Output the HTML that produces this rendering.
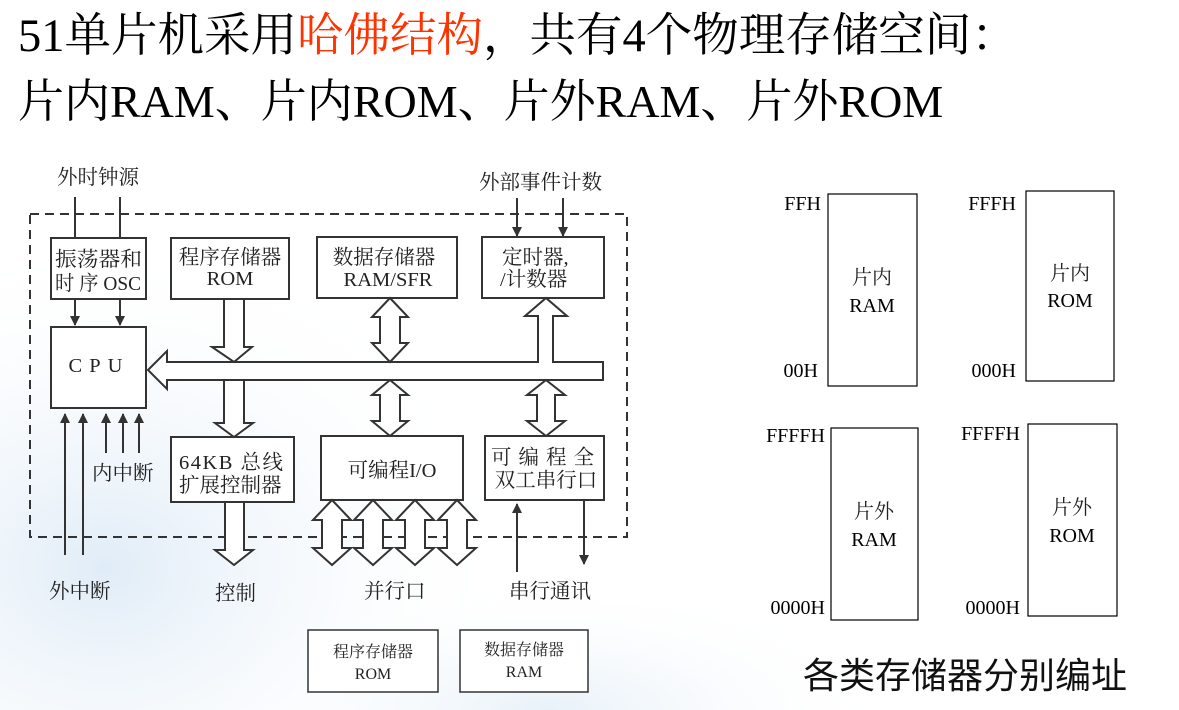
<!DOCTYPE html>
<html><head><meta charset="utf-8">
<style>
html,body{margin:0;padding:0;background:#fff;}
body{width:1179px;height:710px;overflow:hidden;position:relative;}
svg{position:absolute;left:0;top:0;}
.t{font-family:"Liberation Serif","Noto Serif CJK SC",serif;}
</style></head>
<body>
<svg width="1179" height="710" viewBox="0 0 1179 710" xmlns="http://www.w3.org/2000/svg">
<defs>
<radialGradient id="g1" cx="0.15" cy="0.75" r="0.6">
<stop offset="0" stop-color="#e0ecf7"/><stop offset="1" stop-color="#ffffff" stop-opacity="0"/>
</radialGradient>
<radialGradient id="g2" cx="0.5" cy="1" r="0.5">
<stop offset="0" stop-color="#e8f1f9"/><stop offset="1" stop-color="#ffffff" stop-opacity="0"/>
</radialGradient>
<marker id="ah" viewBox="0 0 10 10" refX="9" refY="5" markerWidth="5" markerHeight="5" orient="auto">
<path d="M0,0 L10,5 L0,10 z" fill="#333"/>
</marker>
</defs>
<rect x="0" y="140" width="700" height="570" fill="url(#g1)"/>
<rect x="200" y="450" width="700" height="260" fill="url(#g2)"/>

<text class="t" x="18" y="51" font-size="46.5" fill="#000">51单片机采用<tspan fill="#ff3300">哈佛结构</tspan>，共有4个物理存储空间：</text>
<text class="t" x="18" y="117" font-size="46" fill="#000">片内RAM、片内ROM、片外RAM、片外ROM</text>

<g stroke="#333" stroke-width="2" fill="none">
<rect x="30" y="214" width="597" height="323" stroke-dasharray="9 6"/>
<rect x="51" y="238" width="95" height="61" fill="#fff"/>
<rect x="171" y="238" width="118" height="61" fill="#fff"/>
<rect x="317" y="237" width="140" height="61" fill="#fff"/>
<rect x="482" y="237" width="122" height="61" fill="#fff"/>
<rect x="51" y="327" width="95" height="81" fill="#fff"/>
<rect x="171" y="437" width="123" height="65" fill="#fff"/>
<rect x="321" y="436" width="142" height="64" fill="#fff"/>
<rect x="485" y="436" width="119" height="64" fill="#fff"/>

<path d="M148,370 L167,351 L167,362 L538,362 L538,316 L525,316 L546,298 L567,316 L553,316 L553,362 L603,362 L603,380 L167,380 L167,389 Z" fill="#fff"/>
<path d="M224,299 L244,299 L244,347 L252,347 L234,362 L212,347 L224,347 Z" fill="#fff"/>
<path d="M224,380 L244,380 L244,423 L253,423 L234,437 L215,423 L224,423 Z" fill="#fff"/>
<path d="M225,502 L244,502 L244,550 L253,550 L234,565 L215,550 L225,550 Z" fill="#fff"/>
<path d="M390,298 L408,317 L400,317 L400,343 L408,343 L390,362 L372,343 L380,343 L380,317 L372,317 Z" fill="#fff"/>
<path d="M390,380 L408,395 L400,395 L400,421 L408,421 L390,436 L372,421 L380,421 L380,395 L372,395 Z" fill="#fff"/>
<path d="M546,380 L565,395 L555,395 L555,421 L565,421 L546,436 L527,421 L537,421 L537,395 L527,395 Z" fill="#fff"/>
<path d="M332,500 L351,520 L342,520 L342,548 L351,548 L332,565 L313,548 L322,548 L322,520 L313,520 Z" fill="#fff"/>
<path d="M373,500 L392,520 L383,520 L383,548 L392,548 L373,565 L354,548 L363,548 L363,520 L354,520 Z" fill="#fff"/>
<path d="M415,500 L434,520 L425,520 L425,548 L434,548 L415,565 L396,548 L405,548 L405,520 L396,520 Z" fill="#fff"/>
<path d="M457,500 L476,520 L467,520 L467,548 L476,548 L457,565 L438,548 L447,548 L447,520 L438,520 Z" fill="#fff"/>

<line x1="75" y1="197" x2="75" y2="238"/>
<line x1="120" y1="197" x2="120" y2="238"/>
<line x1="75" y1="299" x2="75" y2="325" marker-end="url(#ah)"/>
<line x1="120" y1="299" x2="120" y2="325" marker-end="url(#ah)"/>
<line x1="517" y1="198" x2="517" y2="236" marker-end="url(#ah)"/>
<line x1="563" y1="198" x2="563" y2="236" marker-end="url(#ah)"/>
<line x1="65" y1="555" x2="65" y2="414" marker-end="url(#ah)"/>
<line x1="83" y1="555" x2="83" y2="414" marker-end="url(#ah)"/>
<line x1="106" y1="453" x2="106" y2="414" marker-end="url(#ah)"/>
<line x1="123" y1="453" x2="123" y2="414" marker-end="url(#ah)"/>
<line x1="139" y1="453" x2="139" y2="414" marker-end="url(#ah)"/>
<line x1="517" y1="572" x2="517" y2="504" marker-end="url(#ah)"/>
<line x1="584" y1="500" x2="584" y2="564" marker-end="url(#ah)"/>
</g>

<g class="t" fill="#222" font-size="20.5">
<text x="57" y="184">外时钟源</text>
<text x="479" y="189">外部事件计数</text>
<text x="55" y="266" textLength="87" lengthAdjust="spacingAndGlyphs">振荡器和</text>
<text x="55" y="290" textLength="86" lengthAdjust="spacingAndGlyphs">时 序 OSC</text>
<text x="230" y="264" text-anchor="middle">程序存储器</text>
<text x="230" y="285" text-anchor="middle">ROM</text>
<text x="384" y="264" text-anchor="middle">数据存储器</text>
<text x="388" y="286" text-anchor="middle">RAM/SFR</text>
<text x="502" y="264">定时器,</text>
<text x="500" y="286">/计数器</text>
<text x="99" y="372" text-anchor="middle" letter-spacing="7">CPU</text>
<text x="92" y="480">内中断</text>
<text x="179" y="469" textLength="104">64KB  总线</text>
<text x="179" y="492">扩展控制器</text>
<text x="392" y="477" text-anchor="middle">可编程I/O</text>
<text x="546" y="464" text-anchor="middle" letter-spacing="7">可编程全</text>
<text x="546" y="487" text-anchor="middle">双工串行口</text>
<text x="49" y="598">外中断</text>
<text x="215" y="600">控制</text>
<text x="364" y="598">并行口</text>
<text x="509" y="598">串行通讯</text>
</g>

<g stroke="#333" stroke-width="1.5" fill="#fff">
<rect x="308" y="630" width="130" height="62"/>
<rect x="460" y="630" width="128" height="62"/>
</g>
<g class="t" font-size="16" fill="#222" text-anchor="middle">
<text x="373" y="657">程序存储器</text>
<text x="373" y="679">ROM</text>
<text x="524" y="655">数据存储器</text>
<text x="524" y="677">RAM</text>
</g>

<g stroke="#000" stroke-width="1.2" fill="#fff">
<rect x="828" y="194" width="89" height="192"/>
<rect x="1026" y="191" width="88" height="190"/>
<rect x="831" y="428" width="87" height="192"/>
<rect x="1028" y="424" width="89" height="192"/>
</g>
<g class="t" font-size="20" fill="#000">
<text x="821" y="210" text-anchor="end">FFH</text>
<text x="818" y="377" text-anchor="end">00H</text>
<text x="1016" y="210" text-anchor="end">FFFH</text>
<text x="1016" y="377" text-anchor="end">000H</text>
<text x="825" y="442" text-anchor="end">FFFFH</text>
<text x="825" y="614" text-anchor="end">0000H</text>
<text x="1020" y="440" text-anchor="end">FFFFH</text>
<text x="1020" y="614" text-anchor="end">0000H</text>
<g text-anchor="middle">
<text x="872" y="284" fill="#222">片内</text>
<text x="872" y="312">RAM</text>
<text x="1070" y="280" fill="#222">片内</text>
<text x="1070" y="307">ROM</text>
<text x="874" y="518" fill="#222">片外</text>
<text x="874" y="546">RAM</text>
<text x="1072" y="514" fill="#222">片外</text>
<text x="1072" y="542">ROM</text>
</g>
</g>
<text x="803" y="688" font-family="'Noto Sans CJK SC',sans-serif" font-size="36" fill="#111">各类存储器分别编址</text>
</svg>
</body></html>
